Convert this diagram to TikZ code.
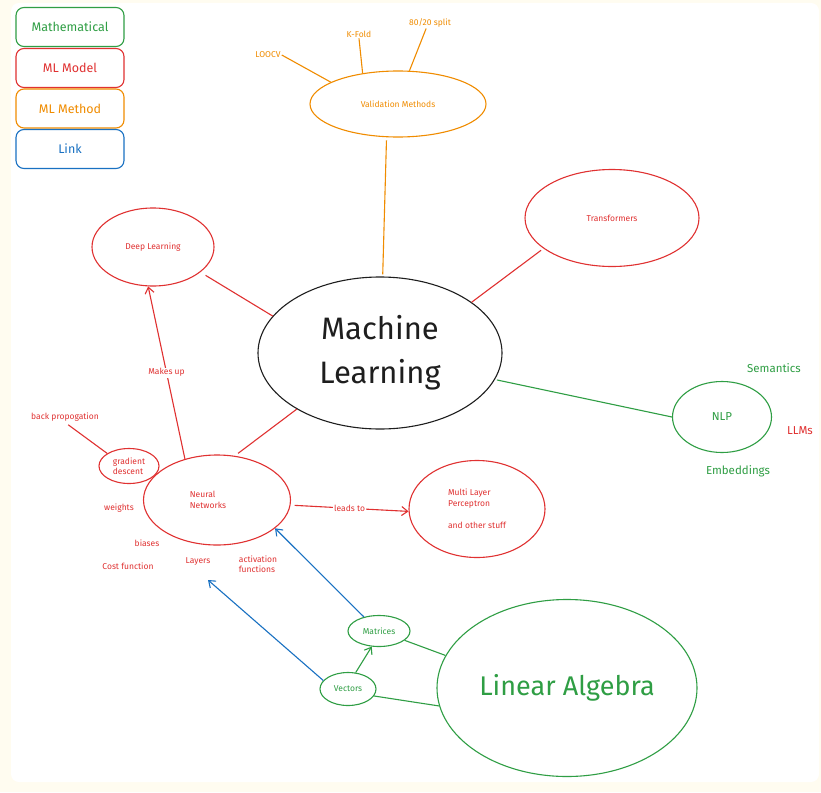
\documentclass[tikz,border=0pt]{standalone}
\usepackage{fontspec}
\setmainfont{Fira Sans}
\usetikzlibrary{shapes.geometric,arrows.meta,calc}
\definecolor{cream}{HTML}{FFFCF0}
\definecolor{exgreen}{HTML}{2F9E44}
\definecolor{exred}{HTML}{E03131}
\definecolor{exorange}{HTML}{F08C00}
\definecolor{exblue}{HTML}{1971C2}
\definecolor{exblack}{HTML}{1E1E1E}
\tikzset{
  legend/.style={draw=#1, text=#1, line width=1.1pt, rounded corners=8pt, minimum width=108pt, minimum height=39pt, inner sep=0pt, font=\fontsize{12.5}{14}\selectfont},
  ell/.style={ellipse, draw=#1, text=#1, line width=1.1pt, inner sep=0pt},
  lbl/.style={text=#1, inner sep=1pt, font=\fontsize{8.5}{10.5}\selectfont},
  biglbl/.style={text=#1, inner sep=1pt, font=\fontsize{11.5}{13}\selectfont},
  conn/.style={draw=#1, line width=1.1pt},
  arr/.style={draw=#1, line width=1.1pt, -{Straight Barb[length=6pt,width=9pt]}},
}
\begin{document}
\begin{tikzpicture}[x=1pt,y=-1pt]
\useasboundingbox (0,0) rectangle (821,792);
\fill[cream] (0,0) rectangle (821,792);
\fill[white, rounded corners=8pt] (11,3) rectangle (819,782);

% legend
\node[legend=exgreen] (lgmath) at (70,27) {Mathematical};
\node[legend=exred] (lgmodel) at (70,68) {ML Model};
\node[legend=exorange] (lgmethod) at (70,108.5) {ML Method};
\node[legend=exblue] (lglink) at (70,149) {Link};

% validation
\node[ell=exorange, minimum width=176pt, minimum height=66pt, font=\fontsize{8.5}{10}\selectfont] (val) at (398,104) {Validation Methods};
\node[lbl=exorange] (loocv) at (268,55) {LOOCV};
\node[lbl=exorange] (kfold) at (359,34) {K-Fold};
\node[lbl=exorange] (split) at (430,23) {80/20 split};
\draw[conn=exorange] (loocv.east) -- (val.162);
\draw[conn=exorange] (kfold.south) -- (val.139);
\draw[conn=exorange] (split.235) -- (val.71);

% machine learning
\node[ell=exblack, minimum width=244pt, minimum height=152pt, align=center, font=\fontsize{31}{44}\selectfont] (ml) at (380,353) {Machine\\Learning};
\draw[conn=exorange, shorten >=2pt, shorten <=3pt] (val.-109.5) -- (ml.88);

% transformers
\node[ell=exred, minimum width=174pt, minimum height=97pt, font=\fontsize{8.5}{10}\selectfont] (tr) at (612,218) {Transformers};
\draw[conn=exred, shorten >=3pt] (ml.29.5) -- (tr.204);

% deep learning
\node[ell=exred, minimum width=122pt, minimum height=78pt, font=\fontsize{8.5}{10}\selectfont] (dl) at (153,247) {Deep Learning};
\draw[conn=exred, shorten <=6pt] (dl.-28) -- (ml.161);

% neural networks
\node[ell=exred, minimum width=147pt, minimum height=90pt, align=left, font=\fontsize{8.5}{11}\selectfont] (nn) at (217,500) {\hspace*{-18pt}Neural\\\hspace*{-18pt}Networks};
\draw[conn=exred, shorten <=4pt] (nn.68) -- (ml.214);
\draw[arr=exred] (nn.128) -- node[fill=white, lbl=exred] (makesup) {Makes up} (dl.263);

% gradient descent
\node[ell=exred, minimum width=60pt, minimum height=35pt, align=left, font=\fontsize{8.5}{10}\selectfont] (gd) at (129,466) {gradient\\descent};
\node[lbl=exred] (bp) at (65,417) {back propogation};
\draw[conn=exred, shorten <=4pt] (bp.south) -- (gd.150);

% NN satellite labels
\node[lbl=exred] (weights) at (119,508) {weights};
\node[lbl=exred] (biases) at (147,543) {biases};
\node[lbl=exred] (costf) at (128,566) {Cost function};
\node[lbl=exred] (layers) at (198,561) {Layers};
\node[lbl=exred, align=left] (actf) at (258,564) {activation\\functions};

% MLP
\node[ell=exred, minimum width=136pt, minimum height=97pt, align=left, font=\fontsize{8.5}{11}\selectfont] (mlp) at (477,509) {Multi Layer\\Perceptron\\[11pt]and other stuff};
\draw[arr=exred, shorten <=4pt] (nn.-4) -- node[fill=white, lbl=exred] (leads) {leads to} (mlp.182);

% NLP
\node[ell=exgreen, minimum width=99pt, minimum height=71pt, font=\fontsize{11.5}{13}\selectfont] (nlp) at (722,417) {NLP};
\draw[conn=exgreen, shorten <=2pt] (ml.-13) -- (nlp.west);
\node[biglbl=exgreen] (sem) at (774,368) {Semantics};
\node[biglbl=exred] (llms) at (800,431) {LLMs};
\node[biglbl=exgreen] (emb) at (738,471) {Embeddings};

% linear algebra
\node[ell=exgreen, minimum width=260pt, minimum height=177pt, font=\fontsize{27}{30}\selectfont] (la) at (567,688) {Linear Algebra};
\node[ell=exgreen, minimum width=62pt, minimum height=31pt, font=\fontsize{8.5}{10}\selectfont] (mat) at (379,631) {Matrices};
\node[ell=exgreen, minimum width=56pt, minimum height=33pt, font=\fontsize{8.5}{10}\selectfont] (vec) at (348,689) {Vectors};
\draw[conn=exgreen] (mat.-20) -- (la.165);
\draw[conn=exgreen] (vec.-15) -- (la.188);
\draw[arr=exgreen] (vec.65) -- (mat.245);

% links
\coordinate (layerstip) at (208,580);
\draw[arr=exblue] (mat.137) -- (nn.-26);
\draw[arr=exblue] (vec.161) -- (layerstip);
\end{tikzpicture}
\end{document}
